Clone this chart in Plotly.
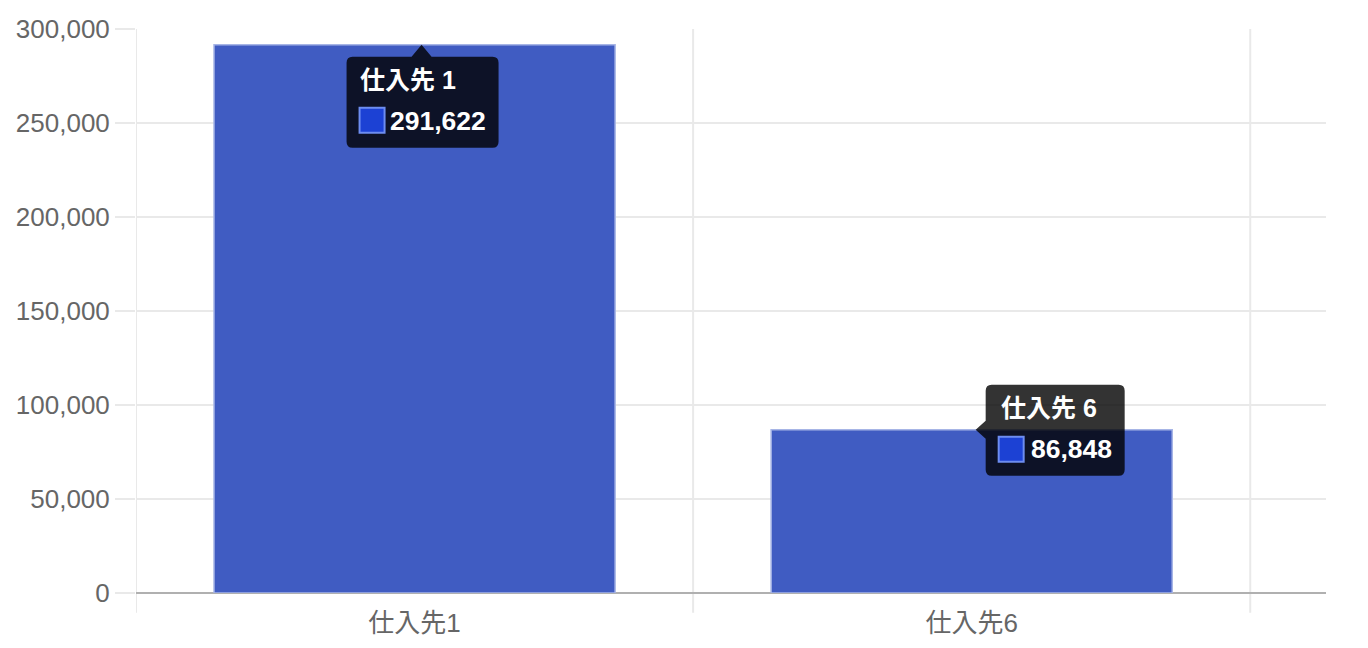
import plotly.graph_objects as go

# data
suppliers = ['仕入先1', '仕入先6']
tooltip_titles = ['仕入先 1', '仕入先 6']
amounts = [291622, 86848]
y_ticks = [0, 50000, 100000, 150000, 200000, 250000, 300000]

BAR = '#405cc2'
GRID = '#e9e9e9'
TIP_BG = 'rgba(0,0,0,0.8)'
FONT = 'Liberation Sans, Arial, Noto Sans CJK JP'


def rounded_box(L, R, T, B, r=6, caret='top', cx=0):
    # pixel path relative to the data anchor (y goes up)
    p = f'M {L + r},{T} '
    if caret == 'top':
        p += f'L {cx - 10},{T} L {cx},0 L {cx + 10},{T} '
    p += f'L {R - r},{T} Q {R},{T} {R},{T - r} '
    p += f'L {R},{B + r} Q {R},{B} {R - r},{B} '
    p += f'L {L + r},{B} Q {L},{B} {L},{B + r} '
    if caret == 'left':
        p += f'L {L},-9 L {cx},0 L {L},9 '
    p += f'L {L},{T - r} Q {L},{T} {L + r},{T} Z'
    return p


fig = go.Figure()
fig.add_trace(go.Bar(
    x=list(range(len(suppliers))), y=amounts, width=0.72,
    marker=dict(color=BAR, line=dict(color='#a7b5e6', width=1.5)),
    hoverinfo='skip'))

# vertical category grid lines (Chart.js style, between categories)
for i in range(len(suppliers) + 1):
    fig.add_shape(type='line', xref='x', yref='paper', x0=i - 0.5, x1=i - 0.5,
                  y0=-0.035, y1=1, line=dict(color=GRID, width=2), layer='below')

# tooltips: box edges, caret, title / swatch / value offsets (pixels from bar top)
tips = [
    dict(L=-68, R=84, T=-12, B=-103, caret='top', cx=7,
         tx=-57, ty=-35, sx=-55, sy=-63, vx=-27, vy=-76),
    dict(L=14, R=153, T=45, B=-46, caret='left', cx=4,
         tx=27, ty=22, sx=27, sy=-7, vx=57, vy=-19),
]
for i, (t, title, val) in enumerate(zip(tips, tooltip_titles, amounts)):
    fig.add_shape(type='path', xref='x', yref='y', xsizemode='pixel', ysizemode='pixel',
                  xanchor=i, yanchor=val,
                  path=rounded_box(t['L'], t['R'], t['T'], t['B'], caret=t['caret'], cx=t['cx']),
                  fillcolor=TIP_BG, line=dict(width=0), layer='above')
    fig.add_shape(type='rect', xref='x', yref='y', xsizemode='pixel', ysizemode='pixel',
                  xanchor=i, yanchor=val,
                  x0=t['sx'], x1=t['sx'] + 25, y0=t['sy'], y1=t['sy'] - 25,
                  fillcolor='#1c41d4', line=dict(color='#6d8df0', width=2), layer='above')
    fig.add_annotation(x=i, y=val, xref='x', yref='y', showarrow=False,
                       xanchor='left', yanchor='middle', xshift=t['tx'], yshift=t['ty'],
                       text=f'<b>{title}</b>', font=dict(color='white', size=25, family=FONT))
    fig.add_annotation(x=i, y=val, xref='x', yref='y', showarrow=False,
                       xanchor='left', yanchor='middle', xshift=t['vx'], yshift=t['vy'],
                       text=f'<b>{val:,}</b>', font=dict(color='white', size=26.5, family=FONT))

fig.update_layout(
    width=1368, height=648,
    margin=dict(l=128, r=50, t=21, b=63),
    plot_bgcolor='white', paper_bgcolor='white',
    showlegend=False,
    font=dict(family=FONT, color='#666666', size=26),
    xaxis=dict(range=[-0.5, 1.636], tickvals=list(range(len(suppliers))), ticktext=suppliers,
               showgrid=False, zeroline=False, ticks='', fixedrange=True, automargin=False,
               ticklabelstandoff=12, tickfont=dict(size=26, color='#666666')),
    yaxis=dict(range=[0, 300000], tickvals=y_ticks, tickformat=',', showgrid=True,
               gridcolor=GRID, gridwidth=2, zeroline=True, zerolinecolor='#b0b0b0',
               zerolinewidth=2, ticks='outside', ticklen=20, tickcolor=GRID, tickwidth=2,
               automargin=False, tickfont=dict(size=26, color='#666666')),
)

fig.write_html('out.html')
